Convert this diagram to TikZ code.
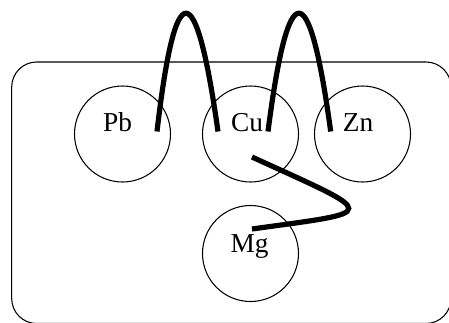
\documentclass[tikz,border=0pt]{standalone}
\usepackage{fontspec}
\setmainfont{Liberation Serif}
\begin{document}
\begin{tikzpicture}[x=0.75pt,y=-0.75pt,
  ring/.style={draw,circle,line width=0.8pt,minimum size=72pt,inner sep=0pt},
  lbl/.style={anchor=base,inner sep=0pt,font=\fontsize{20.5pt}{23pt}\selectfont},
  wire/.style={line width=3.9pt}]
\useasboundingbox (0,0) rectangle (449,322);
\draw[line width=0.8pt,rounded corners=18.75pt] (11.7,62) rectangle (451,323.5);
\node[ring] (pb) at (122.5,134) {};
\node[ring] (cu) at (250.5,134) {};
\node[ring] (zn) at (362.5,134) {};
\node[ring] (mg) at (250.5,253.5) {};
\node[lbl] (pbl) at (117.5,131.7) {Pb};
\node[lbl] (cul) at (247,131.7) {Cu};
\node[lbl] (znl) at (358,131.7) {Zn};
\node[lbl] (mgl) at (249.5,252) {Mg};
\coordinate (a1) at (157,131.5);
\coordinate (a2) at (218,131.5);
\coordinate (b1) at (268,131.5);
\coordinate (b2) at (330.7,131.5);
\coordinate (c1) at (252,157);
\coordinate (c2) at (252,229);
\draw[wire] (a1) .. controls (175.3,-26.2) and (195.7,-26.2) .. (a2);
\draw[wire] (b1) .. controls (288.3,-26.2) and (309.2,-26.2) .. (b2);
\draw[wire] (c1) .. controls (381,216) and (381,211) .. (c2);
\end{tikzpicture}
\end{document}
